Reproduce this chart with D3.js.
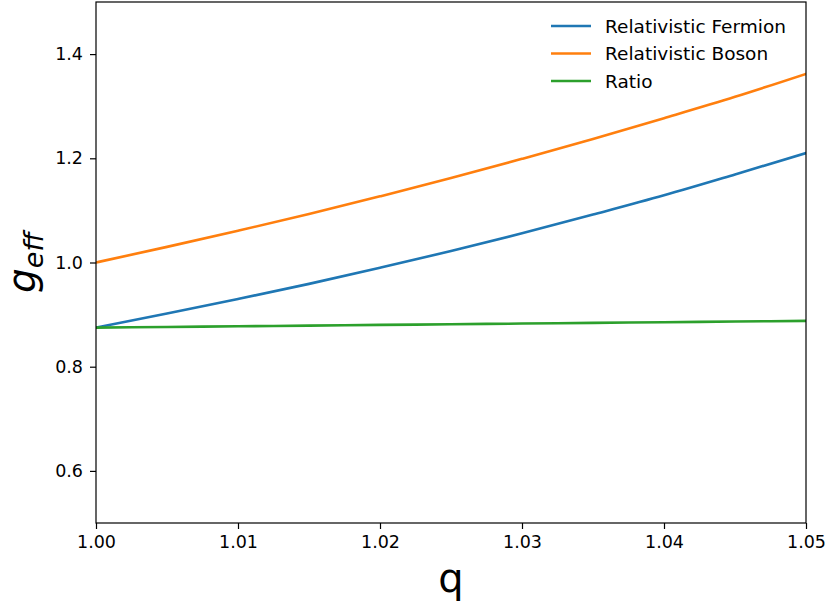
<!DOCTYPE html>
<html>
<head>
<meta charset="utf-8">
<script src="https://cdn.jsdelivr.net/npm/d3@7"></script>
<style>
  html, body { margin: 0; padding: 0; background: #fff; }
  svg { display: block; font-family: "DejaVu Sans", sans-serif; }
</style>
</head>
<body>
<svg id="chart" width="830" height="607"></svg>
<script>
// ---- data ----
const qValues = [1.000, 1.005, 1.010, 1.015, 1.020, 1.025, 1.030, 1.035, 1.040, 1.045, 1.050];
const fermion = [0.875, 0.902, 0.930, 0.959, 0.990, 1.022, 1.056, 1.092, 1.129, 1.169, 1.210];
const boson   = [1.000, 1.030, 1.061, 1.093, 1.127, 1.162, 1.199, 1.237, 1.277, 1.318, 1.362];
const ratio   = [0.875, 0.8763, 0.8776, 0.8789, 0.8802, 0.8815, 0.8828, 0.8841, 0.8854, 0.8867, 0.888];
const seriesNames = ["Relativistic Fermion", "Relativistic Boson", "Ratio"];
const seriesColors = ["#1f77b4", "#ff7f0e", "#2ca02c"];
const xTicks = [1.00, 1.01, 1.02, 1.03, 1.04, 1.05];
const yTicks = [0.6, 0.8, 1.0, 1.2, 1.4];

const series = [fermion, boson, ratio];

const svg = d3.select("#chart");
const margin = { left: 96, top: 2, right: 830 - 806, bottom: 607 - 523 };
const W = 830, H = 607;

const x = d3.scaleLinear().domain([1.0, 1.05]).range([margin.left, W - margin.right]);
const y = d3.scaleLinear().domain([0.5, 1.5]).range([H - margin.bottom, margin.top]);

const line = d3.line().x(d => x(d[0])).y(d => y(d[1])).curve(d3.curveMonotoneX);

const clipId = "plotclip";
svg.append("defs").append("clipPath").attr("id", clipId)
  .append("rect").attr("x", x.range()[0]).attr("y", y.range()[1])
  .attr("width", x.range()[1] - x.range()[0]).attr("height", y.range()[0] - y.range()[1]);

const g = svg.append("g").attr("clip-path", `url(#${clipId})`);
series.forEach((vals, i) => {
  g.append("path")
    .datum(qValues.map((q, j) => [q, vals[j]]))
    .attr("fill", "none")
    .attr("stroke", seriesColors[i])
    .attr("stroke-width", 2.6)
    .attr("stroke-linecap", "square")
    .attr("d", line);
});

// axes
const fontSize = 17.5;
const xAxis = svg.append("g").attr("transform", `translate(0,${y.range()[0]})`)
  .call(d3.axisBottom(x).tickValues(xTicks).tickFormat(d3.format(".2f")).tickSize(6).tickPadding(7));
const yAxis = svg.append("g").attr("transform", `translate(${x.range()[0]},0)`)
  .call(d3.axisLeft(y).tickValues(yTicks).tickFormat(d3.format(".1f")).tickSize(6).tickPadding(7));
[xAxis, yAxis].forEach(a => {
  a.select(".domain").remove();
  a.selectAll(".tick line").attr("stroke", "#000").attr("stroke-width", 1.2);
  a.selectAll(".tick text").attr("fill", "#000").style("font-size", fontSize + "px")
    .style("font-family", "DejaVu Sans");
});

// spines
svg.append("rect")
  .attr("x", x.range()[0]).attr("y", y.range()[1])
  .attr("width", x.range()[1] - x.range()[0]).attr("height", y.range()[0] - y.range()[1])
  .attr("fill", "none").attr("stroke", "#000").attr("stroke-width", 1.2);

// axis labels
svg.append("text")
  .attr("x", (x.range()[0] + x.range()[1]) / 2).attr("y", 592)
  .attr("text-anchor", "middle").style("font-size", "40px").text("q");

const ylab = svg.append("text")
  .attr("transform", `translate(35,${(y.range()[0] + y.range()[1]) / 2}) rotate(-90)`)
  .attr("text-anchor", "middle").style("font-size", "39px").style("font-style", "italic");
ylab.append("tspan").text("g");
ylab.append("tspan").attr("dy", 8).style("font-size", "27px").text("eff");

// legend
const legendFont = 18.5;
const leg = svg.append("g");
seriesNames.forEach((name, i) => {
  const cy = 26 + i * 27.5;
  leg.append("line").attr("x1", 551).attr("x2", 591).attr("y1", cy).attr("y2", cy)
    .attr("stroke", seriesColors[i]).attr("stroke-width", 2.6);
  leg.append("text").attr("x", 605).attr("y", cy + 6.7)
    .style("font-size", legendFont + "px").attr("fill", "#000").text(name);
});
</script>
</body>
</html>
